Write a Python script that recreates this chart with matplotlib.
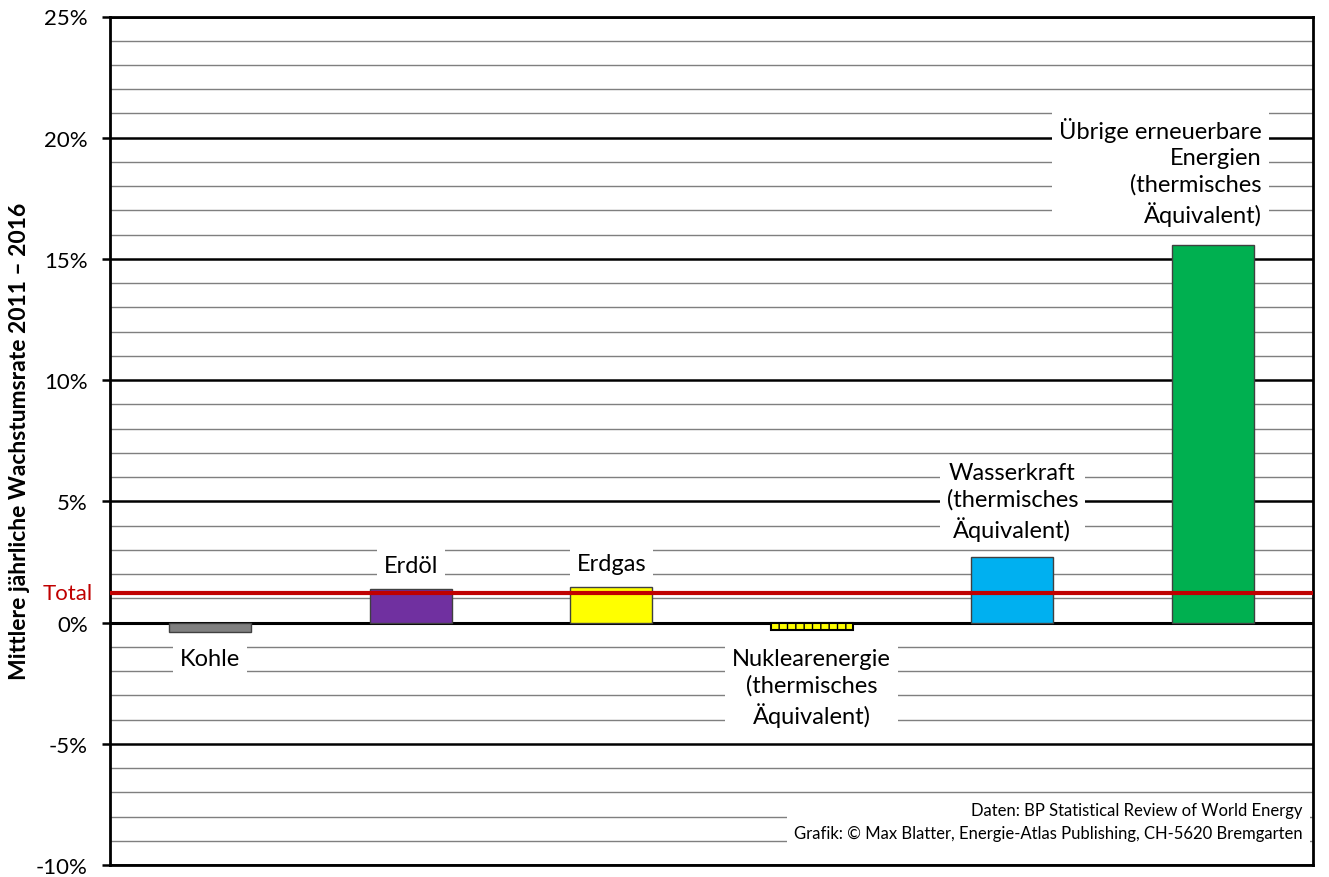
import matplotlib
matplotlib.use("Agg")
import matplotlib.pyplot as plt
from matplotlib.ticker import MultipleLocator, FuncFormatter

plt.rcParams['font.family'] = ['Lato', 'DejaVu Sans']

categories = ["Kohle", "Erdöl", "Erdgas", "Nuklearenergie", "Wasserkraft", "Übrige erneuerbare"]
labels = ["Kohle", "Erdöl", "Erdgas",
          "Nuklearenergie\n(thermisches\nÄquivalent)",
          "Wasserkraft\n(thermisches\nÄquivalent)",
          "Übrige erneuerbare\nEnergien\n(thermisches\nÄquivalent)"]
values = [-0.37, 1.37, 1.47, -0.32, 2.71, 15.56]
colors = ["#808080", "#7030A0", "#FFFF00", "#FFFF00", "#00B0F0", "#00B050"]
total = 1.24

label_y = [-1.49, 2.35, 2.43, -2.68, 5.0, 18.6]
label_x_off = [0, 0, 0, 0, 0, 0.245]
label_ha = ["center", "center", "center", "center", "center", "right"]
label_ma = ["center", "center", "center", "center", "center", "right"]

fig = plt.figure(figsize=(13.29, 8.78), dpi=100)
ax = fig.add_axes([110/1329, 12/878, 1203/1329, 848.5/878])
ax.set_xlim(-0.5, 5.5)
ax.set_ylim(-10, 25)

# grid lines
for v in range(-10, 26):
    if v % 5 == 0:
        ax.axhline(v, color="black", lw=1.8, zorder=1)
    else:
        ax.axhline(v, color="#7f7f7f", lw=1.0, zorder=1)
ax.axhline(0, color="black", lw=2.2, zorder=1)

for i, (v, c) in enumerate(zip(values, colors)):
    if i == 3:
        ax.bar(i, v, width=0.41, color=c, edgecolor="black", lw=1.5,
               hatch="||", zorder=3)
    else:
        ax.bar(i, v, width=0.41, color=c, edgecolor="#404040", lw=1.0, zorder=3)

ax.axhline(total, color="#C00000", lw=3, zorder=4)

for i, lab in enumerate(labels):
    ax.text(i + label_x_off[i], label_y[i], lab, ha=label_ha[i], va="center",
            multialignment=label_ma[i], fontsize=17, linespacing=1.3,
            bbox=dict(facecolor="white", edgecolor="none", pad=5), zorder=5)

ax.text(-0.014, total, "Total", transform=ax.get_yaxis_transform(), ha="right",
        va="center", color="#C00000", fontsize=16)

ax.text(5.45, -8.2, "Daten: BP Statistical Review of World Energy\n"
        "Grafik: © Max Blatter, Energie-Atlas Publishing, CH-5620 Bremgarten",
        ha="right", va="center", multialignment="right", fontsize=12,
        linespacing=1.5, bbox=dict(facecolor="white", edgecolor="none", pad=5),
        zorder=5)

ax.yaxis.set_major_locator(MultipleLocator(5))
ax.yaxis.set_major_formatter(FuncFormatter(lambda v, p: f"{int(v)}%"))
ax.tick_params(axis="y", labelsize=16, length=6, width=1.8, direction="out", pad=10)
ax.set_xticks([])
for s in ax.spines.values():
    s.set_linewidth(2)
    s.set_color("black")

ax.set_ylabel("Mittlere jährliche Wachstumsrate 2011 – 2016", fontsize=16.5,
              fontweight="bold")
ax.yaxis.set_label_coords(-(110 - 30) / 1203, 0.5)

fig.savefig("out.png", dpi=100)
